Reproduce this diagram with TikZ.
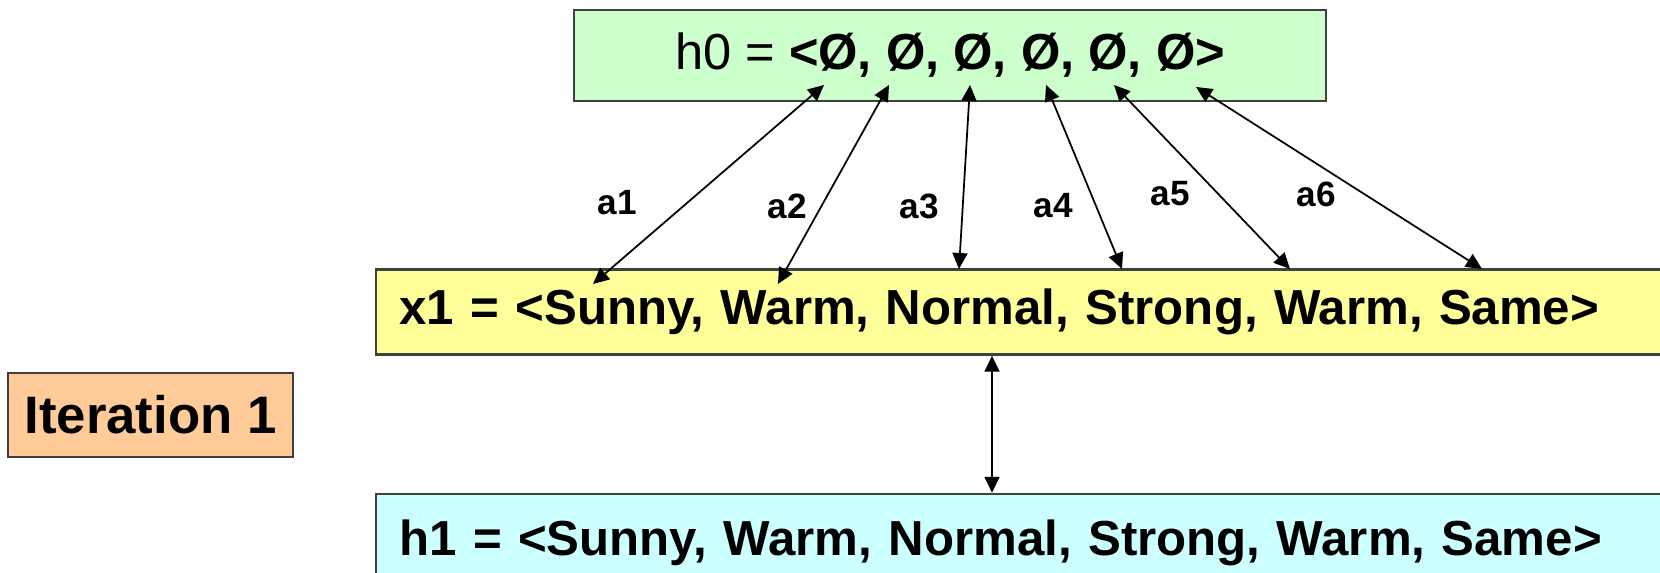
\documentclass[tikz,border=0pt]{standalone}
\usepackage{fontspec}
\setmainfont{Liberation Sans}
\usetikzlibrary{arrows.meta}
\definecolor{hgreen}{HTML}{CCFFCC}
\definecolor{xyellow}{HTML}{FFFF99}
\definecolor{hcyan}{HTML}{CCFFFF}
\definecolor{itorange}{HTML}{FFCC99}

\begin{document}
\begin{tikzpicture}[>={Triangle[length=1.6mm,width=1.5mm]}, line width=0.5pt,
      hyp/.style={draw=black!75, line width=0.7pt, inner sep=0pt},
      row/.style={hyp, anchor=west, minimum width=13cm, minimum height=0.85cm,
                  text width=12.54cm, inner xsep=0.23cm, align=left,
                  font=\fontsize{14}{16}\selectfont\bfseries},
      lbl/.style={font=\fontsize{10}{12}\selectfont\bfseries}]
    \clip (0,0) rectangle (16.6,5.73);
    \node[hyp, fill=hgreen, minimum width=7.52cm, minimum height=0.91cm,
          font=\fontsize{14.4}{16}\selectfont] (h0) at (9.50,5.175)
          {h0 = \textbf{<Ø, Ø, Ø, Ø, Ø, Ø>}};
    \node[row, fill=xyellow] (x1) at (3.75,2.61)
          {x1 = <Sunny, Warm, Normal, Strong, Warm, Same>};
    \node[row, fill=hcyan, minimum height=0.98cm] (h1) at (3.75,0.30)
          {h1 = <Sunny, Warm, Normal, Strong, Warm, Same>};
    \node[hyp, fill=itorange, minimum width=2.85cm, minimum height=0.84cm,
          font=\fontsize{15}{17}\selectfont\bfseries] (iter) at (1.505,1.58) {Iteration 1};
    % attribute ends
    \coordinate (u1) at (8.24,4.88); \coordinate (d1) at (5.93,2.89);
    \coordinate (u2) at (8.89,4.88); \coordinate (d2) at (7.78,2.89);
    \coordinate (u3) at (9.70,4.88); \coordinate (d3) at (9.59,3.04);
    \coordinate (u4) at (10.46,4.88); \coordinate (d4) at (11.22,3.04);
    \coordinate (u5) at (11.14,4.88); \coordinate (d5) at (12.90,3.04);
    \coordinate (u6) at (11.96,4.86); \coordinate (d6) at (14.82,3.04);
    \draw[<->] (u1)--(d1); \draw[<->] (u2)--(d2); \draw[<->] (u3)--(d3);
    \draw[<->] (u4)--(d4); \draw[<->] (u5)--(d5); \draw[<->] (u6)--(d6);
    \node[lbl] (a1) at (6.17,3.70) {a1};
    \node[lbl] (a2) at (7.87,3.67) {a2};
    \node[lbl] (a3) at (9.19,3.67) {a3};
    \node[lbl] (a4) at (10.53,3.67) {a4};
    \node[lbl] (a5) at (11.70,3.79) {a5};
    \node[lbl] (a6) at (13.16,3.79) {a6};
    \coordinate (mid) at (9.92,0);
    \draw[<->] (x1.south -| mid)--(h1.north -| mid);
  \end{tikzpicture}
\end{document}
